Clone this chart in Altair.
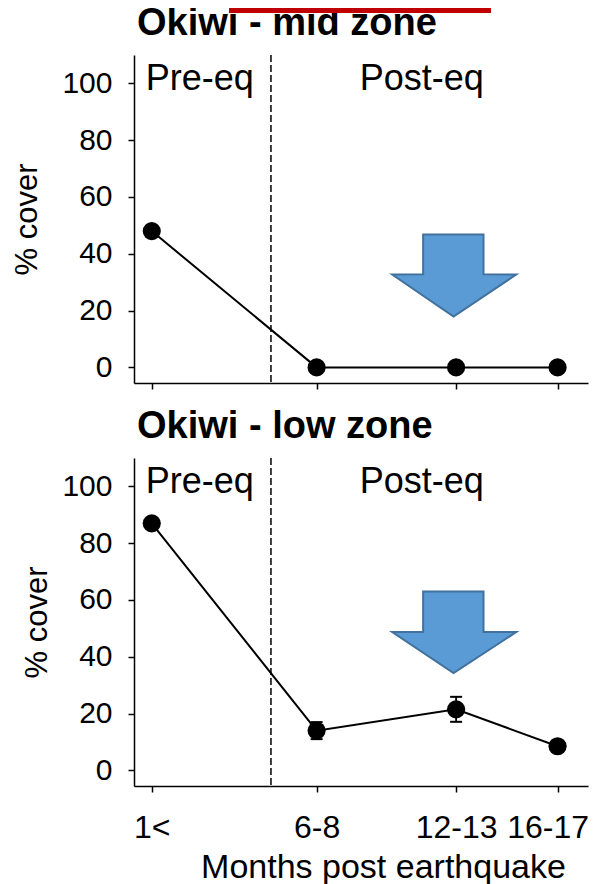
import altair as alt
import pandas as pd

FONT = "Liberation Sans"

# ---------------- data ----------------
months = [0.5, 7.0, 12.5, 16.5]
month_labels = ["1<", "6-8", "12-13", "16-17"]
panel_titles = ["Okiwi - mid zone", "Okiwi - low zone"]

mid_cover = [48, 0, 0, 0]
mid_se = [0.0, 0.0, 0.0, 0.0]
low_cover = [87, 14, 21.5, 8.5]
low_se = [1.0, 3.0, 4.4, 1.0]

eq_month = [5.2]
phase_labels = ["Pre-eq", "Post-eq"]
phase_month = [0.26, 8.7]
phase_cover = [97.5, 97.5]
y_ticks = [0, 20, 40, 60, 80, 100]

# downward arrow annotation (months / % cover), from tip up to stem top
arrow_left = [12.4, 9.98, 11.2, 11.2]
arrow_right = [12.4, 14.87, 13.58, 13.58]
arrow_y_mid = [17.9, 32.7, 32.75, 46.8]
arrow_y_low = [34.3, 48.7, 48.75, 63.0]

X_DOMAIN = [-0.2, 17.7]
Y_DOMAIN = [-5.5, 110]
W, H = 454, 328

label_expr = " : ".join(
    f"datum.value == {m} ? '{l}'" for m, l in zip(months, month_labels)
) + " : ''"

common_axis = dict(
    grid=False, domainColor="black", tickColor="black", labelColor="black",
    titleColor="black", labelFont=FONT, titleFont=FONT, domainWidth=1.5,
    tickWidth=1.5,
)


def x_axis(bottom):
    if bottom:
        return alt.Axis(
            values=months, labelExpr=label_expr, labelFontSize=32,
            labelPadding=20, tickSize=6, title="Months post earthquake",
            titleFontSize=34, titleFontWeight="normal", titleX=249, titleY=91,
            titleBaseline="alphabetic", titleAlign="center", labelFlush=False,
            labelOverlap=False,
            labelOffset={"condition": {"test": f"datum.value == {months[-1]}",
                                       "value": -10}, "value": 0},
            **common_axis)
    return alt.Axis(values=months, labels=False, tickSize=6, title=None,
                    **common_axis)


def y_axis(pad):
    return alt.Axis(
        values=y_ticks, title="% cover", titleFontSize=31,
        titleFontWeight="normal", titlePadding=pad, labelFontSize=30,
        labelPadding=16, tickSize=6, **common_axis)


def panel(cover, se, title, arrow_y, bottom, ypad, red_box):
    xs = alt.Scale(domain=X_DOMAIN, nice=False, zero=False)
    ys = alt.Scale(domain=Y_DOMAIN, nice=False, zero=False)

    def X(field):
        return alt.X(field, type="quantitative", scale=xs, axis=x_axis(bottom))

    def Y(field):
        return alt.Y(field, type="quantitative", scale=ys, axis=y_axis(ypad))

    df = pd.DataFrame({
        "month": months,
        "cover": cover,
        "lo": [c - s for c, s in zip(cover, se)],
        "hi": [c + s for c, s in zip(cover, se)],
    })
    err_df = df[[s > 0 for s in se]]

    eq_df = pd.DataFrame({"month": eq_month})
    phase_df = pd.DataFrame({"month": phase_month, "cover": phase_cover,
                             "label": phase_labels})
    arrow_df = pd.DataFrame({"month": arrow_left, "month2": arrow_right,
                             "cover": arrow_y})
    title_df = pd.DataFrame({"t": [title]})

    layers = []
    layers.append(
        alt.Chart(eq_df).mark_rule(color="black", strokeWidth=1.5,
                                   strokeDash=[7, 3]).encode(x=X("month"))
    )
    layers.append(
        alt.Chart(arrow_df).mark_area(
            orient="horizontal", fill="#5B9BD5", stroke="#41719C",
            strokeWidth=2, opacity=1
        ).encode(y=Y("cover"), x=X("month"), x2="month2")
    )
    layers.append(
        alt.Chart(df).mark_line(color="black", strokeWidth=2).encode(
            x=X("month"), y=Y("cover"))
    )
    if len(err_df):
        layers.append(
            alt.Chart(err_df).mark_rule(color="black", strokeWidth=1.8).encode(
                x=X("month"), y=Y("lo"), y2="hi")
        )
        for f in ["lo", "hi"]:
            layers.append(
                alt.Chart(err_df).mark_tick(
                    orient="horizontal", size=12, thickness=2, color="black",
                    opacity=1).encode(x=X("month"), y=Y(f))
            )
    layers.append(
        alt.Chart(df).mark_circle(size=330, color="black", opacity=1).encode(
            x=X("month"), y=Y("cover"))
    )
    layers.append(
        alt.Chart(phase_df).mark_text(
            font=FONT, fontSize=36, align="left", baseline="alphabetic",
            color="black").encode(x=X("month"), y=Y("cover"), text="label:N")
    )
    layers.append(
        alt.Chart(title_df).mark_text(
            font=FONT, fontSize=38, fontWeight="bold", align="left",
            baseline="alphabetic", color="black").encode(
            x=alt.value(3), y=alt.value(-20), text="t:N")
    )
    if red_box:
        layers.append(
            alt.Chart(title_df).mark_rect(color="#C00000").encode(
                x=alt.value(95), x2=alt.value(357),
                y=alt.value(-47), y2=alt.value(-42))
        )
    return alt.layer(*layers).properties(width=W, height=H)


top = panel(mid_cover, mid_se, panel_titles[0], arrow_y_mid, False, 18, True)
bottom = panel(low_cover, low_se, panel_titles[1], arrow_y_low, True, 8, False)

chart = alt.vconcat(top, bottom, spacing=18).properties(
    padding={"left": 3, "top": -3, "right": 0, "bottom": 0}
).configure_view(stroke=None)

chart.save("out.html", embed_options={"renderer": "svg", "actions": False})
